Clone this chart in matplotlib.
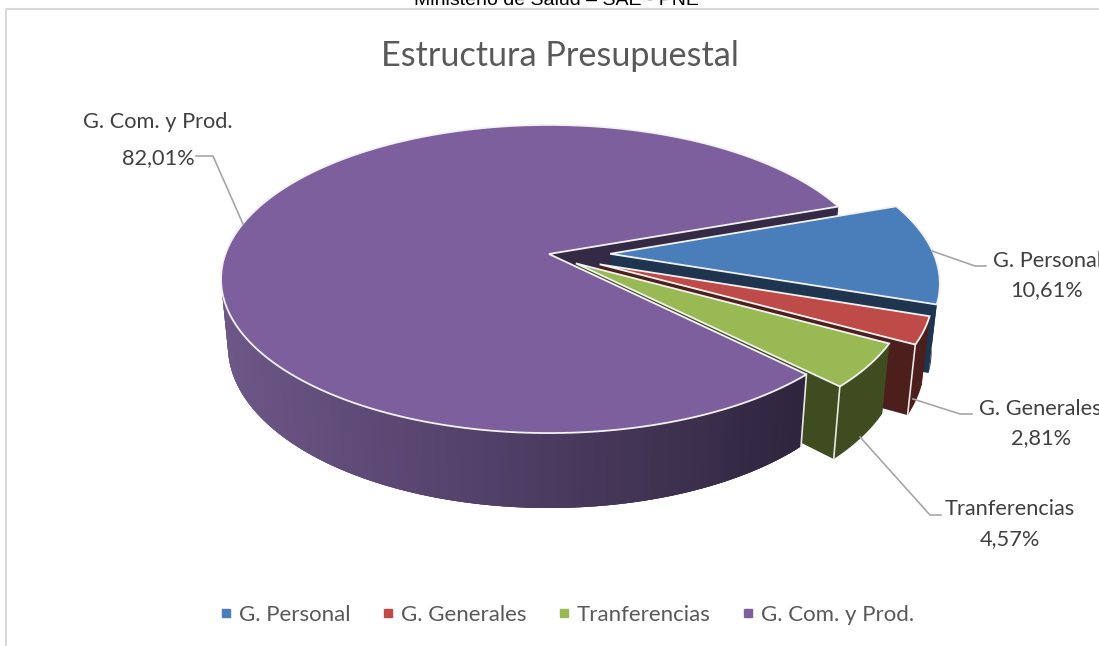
import numpy as np
import matplotlib
matplotlib.use("Agg")
import matplotlib.pyplot as plt
from matplotlib.collections import PolyCollection
from matplotlib.colors import to_rgb
from matplotlib.lines import Line2D

categories = ["G. Personal", "G. Generales", "Tranferencias", "G. Com. y Prod."]
shares = [10.61, 2.81, 4.57, 82.01]
explode = [0.189, 0.169, 0.103, 0.0]
top_colors = ["#4a7ebb", "#be4b48", "#98b954", "#7d5f9d"]
wall_colors = ["#1e344f", "#4c1f1d", "#3e4c20", "#352a45"]
purple_ramp_x = [225, 400, 550, 700, 810]
purple_ramp_c = ["#6c5787", "#5b4772", "#4b3b60", "#3b2f4c", "#2d243d"]

START = 19.5
CX, CY = 549.0, 254.0
A, H, K = 323.6, 150.0, 0.1623
XS, YS, DROP = 0.979, 1.05, 66.0
FONT = "Lato"

fig = plt.figure(figsize=(10.99, 6.46), dpi=100, facecolor="white")
ax = fig.add_axes([0, 0, 1, 1])
ax.set_xlim(0, 1099)
ax.set_ylim(646, 0)
ax.axis("off")


def project(u, v, bottom=False):
    w = 1 + K * v
    X, Y = A * u / w, H * v / w
    if bottom:
        return CX + XS * X, CY + DROP - YS * Y
    return CX + X, CY - Y


def rim(t, ex, ey, bottom=False):
    return project(ex + np.cos(t), ey + np.sin(t), bottom)


# angular spans of the slices, clockwise
fracs = np.array(shares) / sum(shares) * 360
ends = START - np.cumsum(fracs)
starts = ends + fracs
mids = np.radians((starts + ends) / 2)
EX = [e * np.cos(m) for e, m in zip(explode, mids)]
EY = [e * np.sin(m) for e, m in zip(explode, mids)]


def wall(i, deg, z):
    t = np.radians(deg)
    a0 = project(EX[i], EY[i])
    a1 = project(EX[i], EY[i], True)
    r0 = rim(t, EX[i], EY[i])
    r1 = rim(t, EX[i], EY[i], True)
    ax.fill(*zip(a0, r0, r1, a1), color=wall_colors[i], lw=0, zorder=z)


def outer(i, z, first=None, last=None):
    first = starts[i] if first is None else first
    last = ends[i] if last is None else last
    ts = np.radians(np.linspace(first, last, 160))
    xt, yt = rim(ts, EX[i], EY[i])
    xb, yb = rim(ts, EX[i], EY[i], True)
    if i != 3:
        ax.fill(np.r_[xt, xb[::-1]], np.r_[yt, yb[::-1]], color=wall_colors[i], lw=0, zorder=z)
        return
    # gradient rim: a base shape, then overlapping bands that leave no seams
    ax.fill(np.r_[xt, xb[::-1]], np.r_[yt, yb[::-1]], color=purple_ramp_c[2], lw=0, zorder=z)
    n = len(ts) - 1
    quads = [[(xt[j], yt[j]), (xt[min(j + 2, n)], yt[min(j + 2, n)]),
              (xb[min(j + 2, n)], yb[min(j + 2, n)]), (xb[j], yb[j])] for j in range(n)]
    rgb = np.array([to_rgb(c) for c in purple_ramp_c])
    xm = (xt[:-1] + xt[1:]) / 2
    cols = np.column_stack([np.interp(xm, purple_ramp_x, rgb[:, k]) for k in range(3)])
    ax.add_collection(PolyCollection(quads, facecolors=cols, edgecolors="none", zorder=z))


def top(i, z):
    ts = np.radians(np.linspace(starts[i], ends[i], 300))
    x, y = rim(ts, EX[i], EY[i])
    a = project(EX[i], EY[i])
    ax.fill(np.r_[a[0], x], np.r_[a[1], y], facecolor=top_colors[i], edgecolor="#f2f2f2",
            lw=1.3, joinstyle="miter", zorder=z)


def corner(i, deg, z):
    t = np.radians(deg)
    p, q = rim(t, EX[i], EY[i]), rim(t, EX[i], EY[i], True)
    ax.plot([p[0], q[0]], [p[1], q[1]], color="#e8e8e8", lw=1.2, zorder=z)


# painter's order: back wall of the large slice, exploded slices, large slice
wall(3, ends[3] + 360, 1)
z = 2
for i in range(3):
    wall(i, starts[i], z)
    wall(i, ends[i], z + 1)
    outer(i, z + 2)
    if i > 0:
        corner(i, ends[i], z + 3)
    top(i, z + 4)
    z += 5
# only the near side of the large slice's rim can be seen
outer(3, z, first=starts[3], last=-200.0)
corner(3, starts[3], z + 1)
top(3, z + 2)

# frame and clipped page header
GRID = "#d9d9d9"
ax.plot([5.5, 5.5, 1099], [646, 9, 9], color=GRID, lw=1.5, zorder=30)
ax.text(556, 5, "Ministerio de Salud – SAE - PNE", family="Liberation Sans", fontsize=14,
        color="black", ha="center", va="baseline", zorder=31)
ax.text(560, 56, "Estructura Presupuestal", family=FONT, fontsize=24.7, color="#595959",
        ha="center", va="center", zorder=31)

# data labels and leader lines
LBL = "#404040"
label_pos = [((993, 261), "left", (1047, 290)), ((979, 409), "left", (1041, 438)),
             ((1010, 509), "center", (1010, 539)), ((158, 122), "center", (158, 158))]
leaders = [[(932, 251), (975, 266), (986, 266)], [(913, 399), (960, 414), (972, 414)],
           [(860, 437), (930, 515), (941, 515)], [(243, 224), (213, 156), (196, 156)]]
for name, val, (p1, ha1, p2), ld in zip(categories, shares, label_pos, leaders):
    ax.text(p1[0], p1[1], name, family=FONT, fontsize=15.7, color=LBL, ha=ha1, va="center", zorder=31)
    ax.text(p2[0], p2[1], f"{val:.2f}".replace(".", ",") + "%", family=FONT, fontsize=15.7,
            color=LBL, ha="center", va="center", zorder=31)
    ax.plot(*zip(*ld), color="#a6a6a6", lw=1.2, zorder=29)

# legend
handles = [Line2D([], [], marker="s", ls="", ms=6.2, color=c, label=n)
           for c, n in zip(top_colors, categories)]
ax.legend(handles=handles, ncol=4, loc="center", bbox_to_anchor=(563.5 / 1099, 1 - 615 / 646),
          frameon=False, handletextpad=0.0, columnspacing=1.07, handlelength=1.2,
          prop={"family": FONT, "size": 16}, labelcolor="#595959")

fig.savefig("out.png", dpi=100)
